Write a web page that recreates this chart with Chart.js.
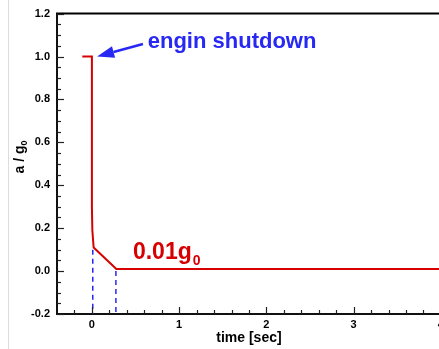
<!DOCTYPE html>
<html>
<head>
<meta charset="utf-8">
<script src="https://cdn.jsdelivr.net/npm/chart.js@4.4.1/dist/chart.umd.min.js"></script>
<style>
  html, body { margin: 0; padding: 0; background: #fff; overflow: hidden; }
  #wrap { width: 439px; height: 349px; overflow: hidden; }
</style>
</head>
<body>
<div id="wrap"><canvas id="myChart" width="502" height="349"></canvas></div>
<script>
const ctx = document.getElementById('myChart');

// data
const timeSec = [-0.11, 0.0, 0.0, 0.005, 0.02, 0.28, 4.7];
const accel = [1.0, 1.0, 0.3, 0.19, 0.11, 0.01, 0.01];
const markTime = [0.01, 0.275];
const markTop = [0.10, 0.0];
const xTicks = [0, 1, 2, 3, 4];
const yTicks = [-0.2, 0, 0.2, 0.4, 0.6, 0.8, 1.0, 1.2];

const red = 'rgb(214, 0, 0)';
const blue = 'rgb(40, 40, 245)';
const font = 'Liberation Sans';

const curve = timeSec.map((t, i) => ({ x: t, y: accel[i] }));
const dashSets = markTime.map((t, i) => ({
    data: [{ x: t, y: markTop[i] }, { x: t, y: -0.2 }],
    showLine: true,
    borderColor: blue,
    borderWidth: 1.5,
    borderDash: [5, 4],
    pointRadius: 0
}));

const decor = {
    id: 'decor',
    afterDraw(chart) {
        const c = chart.ctx;
        const a = chart.chartArea;
        const x = chart.scales.x, y = chart.scales.y;
        c.save();
        // faint line at the left edge
        c.strokeStyle = '#dcdcdc';
        c.lineWidth = 1;
        c.beginPath(); c.moveTo(8.5, 0); c.lineTo(8.5, 349); c.stroke();
        // top frame
        c.strokeStyle = '#000';
        c.lineWidth = 2;
        c.beginPath(); c.moveTo(a.left - 1, a.top); c.lineTo(a.right, a.top); c.stroke();
        // inward ticks
        c.lineWidth = 1.2;
        c.strokeStyle = '#222';
        for (let i = -4; i <= 24; i++) {
            const py = Math.round(y.getPixelForValue(i * 0.05)) + 0.5;
            const len = i % 4 === 0 ? 7 : 4;
            c.beginPath(); c.moveTo(a.left, py); c.lineTo(a.left + len, py); c.stroke();
        }
        for (let i = -1; i <= 24; i++) {
            const px = Math.round(x.getPixelForValue(i * 0.2)) + 0.5;
            if (px < a.left + 2) continue;
            const len = i % 5 === 0 ? 7 : 4;
            c.beginPath(); c.moveTo(px, a.bottom); c.lineTo(px, a.bottom - len); c.stroke();
        }
        // axis titles
        c.fillStyle = '#000';
        c.font = 'bold 14px "' + font + '"';
        c.textAlign = 'center';
        c.textBaseline = 'alphabetic';
        c.fillText('time [sec]', (x.getPixelForValue(1.8)), 342);
        c.save();
        c.translate(24, 157);
        c.rotate(-Math.PI / 2);
        c.textAlign = 'left';
        const w1 = c.measureText('a / g').width;
        c.font = 'bold 9px "' + font + '"';
        const w2 = c.measureText('0').width;
        c.font = 'bold 14px "' + font + '"';
        c.fillText('a / g', -(w1 + w2) / 2, 0);
        c.font = 'bold 9px "' + font + '"';
        c.fillText('0', -(w1 + w2) / 2 + w1, 3);
        c.restore();
        // engin shutdown label + arrow
        c.fillStyle = blue;
        c.font = 'bold 22px "' + font + '"';
        c.textAlign = 'left';
        c.fillText('engin shutdown', x.getPixelForValue(0.64), y.getPixelForValue(1.04));
        const tx = x.getPixelForValue(0.06), ty = y.getPixelForValue(1.0);
        const sx = x.getPixelForValue(0.585), sy = y.getPixelForValue(1.058);
        const ang = Math.atan2(sy - ty, sx - tx);
        const hl = 17, hw = 6;
        const bx = tx + Math.cos(ang) * hl, by = ty + Math.sin(ang) * hl;
        c.strokeStyle = blue;
        c.lineWidth = 2.5;
        c.beginPath(); c.moveTo(sx, sy); c.lineTo(bx, by); c.stroke();
        c.beginPath();
        c.moveTo(tx, ty);
        c.lineTo(bx - Math.sin(ang) * hw, by + Math.cos(ang) * hw);
        c.lineTo(bx + Math.sin(ang) * hw, by - Math.cos(ang) * hw);
        c.closePath();
        c.fill();
        // 0.01 g0 label
        c.fillStyle = red;
        c.font = 'bold 23px "' + font + '"';
        const lx = x.getPixelForValue(0.47), ly = y.getPixelForValue(0.055);
        c.fillText('0.01g', lx, ly);
        const wg = c.measureText('0.01g').width;
        c.font = 'bold 14px "' + font + '"';
        c.fillText('0', lx + wg + 1, ly + 6);
        c.restore();
    }
};

new Chart(ctx, {
    type: 'scatter',
    data: {
        datasets: [{
            data: curve,
            showLine: true,
            borderColor: red,
            borderWidth: 2,
            pointRadius: 0,
            tension: 0
        }, ...dashSets]
    },
    options: {
        responsive: false,
        animation: false,
        layout: { padding: { top: 8, left: 0, right: 0, bottom: 0 } },
        plugins: { legend: { display: false }, tooltip: { enabled: false } },
        scales: {
            x: {
                type: 'linear',
                min: -0.4,
                max: 4.7,
                afterBuildTicks: s => { s.ticks = xTicks.map(v => ({ value: v })); },
                afterFit: s => { s.height = 35; },
                grid: { display: false, drawTicks: false },
                border: { display: true, color: '#111', width: 2 },
                ticks: {
                    padding: 4,
                    color: '#000',
                    font: { family: font, size: 11, weight: 'bold' },
                    callback: v => String(v)
                }
            },
            y: {
                type: 'linear',
                min: -0.2,
                max: 1.2,
                afterBuildTicks: s => { s.ticks = yTicks.map(v => ({ value: v })); },
                afterFit: s => { s.width = 57; },
                grid: { display: false, drawTicks: false },
                border: { display: true, color: '#111', width: 2 },
                ticks: {
                    padding: 7,
                    color: '#000',
                    font: { family: font, size: 11, weight: 'bold' },
                    callback: v => Number(v).toFixed(1)
                }
            }
        }
    },
    plugins: [decor]
});
</script>
</body>
</html>
